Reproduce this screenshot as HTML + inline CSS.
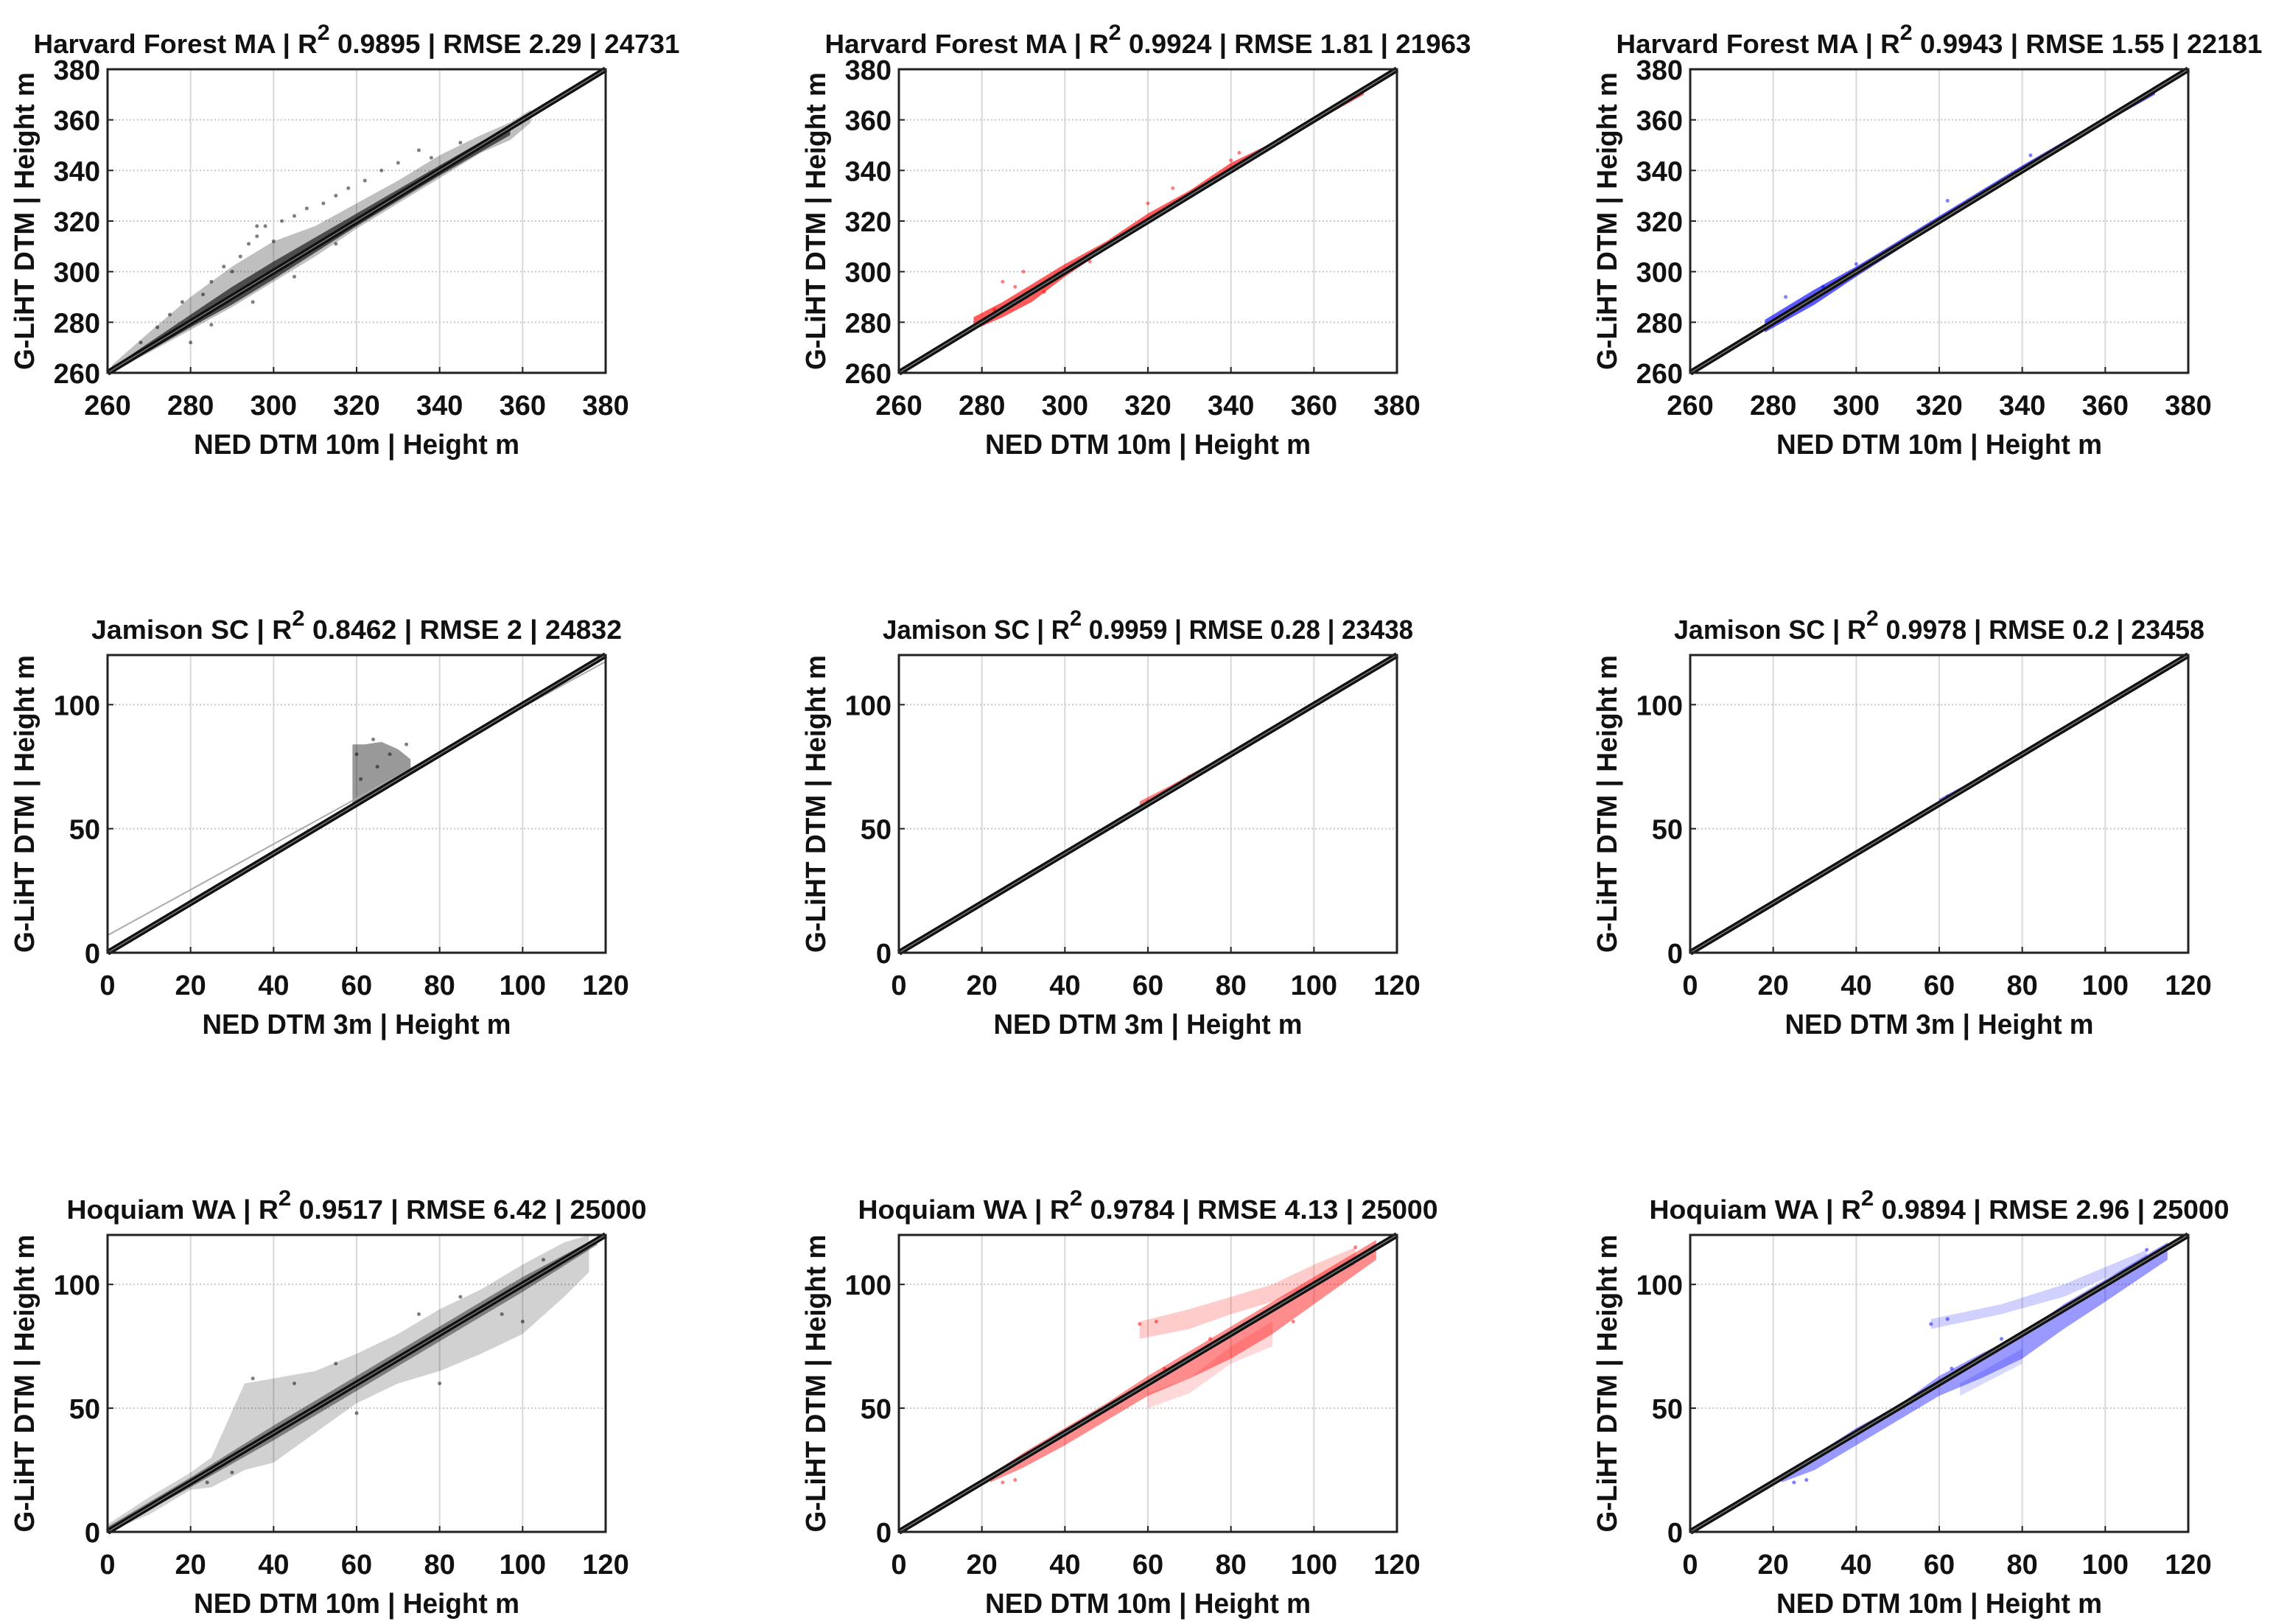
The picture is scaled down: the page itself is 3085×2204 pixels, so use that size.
<!DOCTYPE html>
<html><head><meta charset="utf-8">
<style>
html,body{margin:0;padding:0;background:#fff;}
svg{display:block;}
text{font-family:"Liberation Sans Narrow","Liberation Sans",sans-serif;font-weight:bold;fill:#111;}
</style></head>
<body>
<svg id="fig" width="3085" height="2204" viewBox="0 0 3085 2204" xmlns="http://www.w3.org/2000/svg"></svg>
<script>
// ---- data ----
const titles = [
 ["Harvard Forest MA | R","0.9895 | RMSE 2.29 | 24731"],
 ["Harvard Forest MA | R","0.9924 | RMSE 1.81 | 21963"],
 ["Harvard Forest MA | R","0.9943 | RMSE 1.55 | 22181"],
 ["Jamison SC | R","0.8462 | RMSE 2 | 24832"],
 ["Jamison SC | R","0.9959 | RMSE 0.28 | 23438"],
 ["Jamison SC | R","0.9978 | RMSE 0.2 | 23458"],
 ["Hoquiam WA | R","0.9517 | RMSE 6.42 | 25000"],
 ["Hoquiam WA | R","0.9784 | RMSE 4.13 | 25000"],
 ["Hoquiam WA | R","0.9894 | RMSE 2.96 | 25000"]
];
const xLabels = ["NED DTM 10m | Height m","NED DTM 3m | Height m","NED DTM 10m | Height m"];
const yLabel = "G-LiHT DTM | Height m";
const domains = [[260,380],[0,120],[0,120]];
const xTickVals = [[260,280,300,320,340,360,380],[0,20,40,60,80,100,120],[0,20,40,60,80,100,120]];
const yTickVals = [[260,280,300,320,340,360,380],[0,50,100],[0,50,100]];
const colors = ["#000000","#ff0000","#0000ff"];

// envelopes: [opacity, [x, yLow, yHigh]...]
const envelopes = [
 [[0.25,[[261,260,263],[270,268,276],[280,277,290],[290,286,302],[300,296,312],[310,306,318],[320,317,327],[330,327,336],[340,337,346],[350,347,354],[357,352,359],[362,359,364]]],
  [0.6,[[261,260,262],[280,278,283],[290,287,294],[300,297,304],[320,318,323],[340,338,342],[357,354,358]]]],
 [[0.65,[[278,277,282],[285,282,288],[292,288,295],[300,298,303],[310,309,312],[320,319,323],[330,329,332],[340,339,343],[350,349,351],[360,359,361],[372,370,373]]]],
 [[0.65,[[278,276,281],[290,287,293],[300,298,302],[320,319,322],[340,339,342],[360,359,361],[372,370,372]]]],
 [[0.4,[[59,60,84],[62,62,84],[66,66,85],[70,70,82],[73,73,78]]]],
 [[0.5,[[58,58,61],[65,65,67],[80,80,81]]]],
 [[0.5,[[60,59,62],[70,69,71],[80,79,81]]]],
 [[0.18,[[0,0,3],[10,7,14],[20,17,24],[25,18,30],[33,25,60],[40,28,62],[50,40,65],[60,52,72],[70,60,80],[80,65,90],[90,72,98],[100,80,108],[110,95,117],[116,105,120]]],
  [0.4,[[0,0,2],[20,18,22],[40,37,43],[60,57,63],[80,77,83],[100,97,103],[118,116,119]]]],
 [[0.45,[[22,20,23],[30,26,32],[40,35,42],[50,45,52],[60,55,63],[70,62,73],[80,70,83],[90,80,93],[100,92,103],[115,110,118]]],
  [0.2,[[58,78,85],[70,82,90],[80,88,95],[90,93,100],[100,100,108],[110,108,115]]],
  [0.15,[[60,50,56],[70,56,62],[80,68,75],[90,75,85]]]],
 [[0.4,[[22,20,23],[30,25,31],[40,35,42],[50,45,51],[60,55,63],[70,62,72],[80,70,80],[90,82,92],[100,93,102],[115,110,117]]],
  [0.18,[[58,82,86],[75,88,92],[90,95,100],[110,110,114]]],
  [0.15,[[65,55,60],[80,68,74]]]]
];
// scatter points [x,y]
const points = [
 [[268,272],[272,278],[275,283],[278,288],[283,291],[285,296],[288,302],[290,300],[292,306],[294,311],[296,314],[296,318],[298,318],[300,312],[302,320],[305,322],[308,325],[312,327],[315,330],[318,333],[322,336],[326,340],[330,343],[335,348],[338,345],[345,351],[280,272],[285,279],[295,288],[305,298],[315,311]],
 [[285,296],[290,300],[288,294],[295,292],[320,327],[326,333],[306,304],[340,344],[342,347],[283,285]],
 [[283,290],[292,294],[300,303],[322,328],[342,346],[276,276]],
 [[60,80],[64,86],[68,80],[72,84],[61,70],[65,75]],
 [[60,61],[70,71]],
 [[62,63],[72,73]],
 [[35,62],[45,60],[55,68],[75,88],[85,95],[95,88],[100,85],[105,110],[30,24],[24,20],[60,48],[80,60]],
 [[58,84],[62,85],[25,20],[28,21],[64,66],[75,78],[110,115],[95,85]],
 [[58,84],[62,86],[25,20],[28,21],[63,66],[75,78],[110,114]]
];
// fitted regression lines [intercept, slope]
const fits = [[0,1],[0,1],[0,1],[7,0.92],[0,1],[0,1],[0,1],[0,1],[0,1]];

// ---- layout ----
const colL=[146,1220,2294], W=676;
const rowT=[94,889,1676], H=[412,404,403];
const NS="http://www.w3.org/2000/svg";
const fig=document.getElementById('fig');
function mk(tag,attrs,parent){const e=document.createElementNS(NS,tag);for(const k in attrs)e.setAttribute(k,attrs[k]);(parent||fig).appendChild(e);return e;}

for(let r=0;r<3;r++)for(let c=0;c<3;c++){
 const i=r*3+c, L=colL[c], T=rowT[r], h=H[r], d=domains[r], col=colors[c];
 const sx=v=>L+(v-d[0])/(d[1]-d[0])*W;
 const sy=v=>T+h-(v-d[0])/(d[1]-d[0])*h;
 const g=mk('g',{});
 
 
 xTickVals[r].forEach(v=>{const ln=mk('line',{x1:sx(v),x2:sx(v),y1:T,y2:T+h,stroke:'#d8d8d8','stroke-width':2},g);
  });
 yTickVals[r].forEach(v=>{const ln=mk('line',{x1:L,x2:L+W,y1:sy(v),y2:sy(v),stroke:'#c8c8c8','stroke-width':2,'stroke-dasharray':'2 3'},g);
  });
 envelopes[i].forEach(([op,pts])=>{
  const top=pts.map(p=>sx(p[0])+','+sy(p[2])).join(' ');
  const bot=pts.slice().reverse().map(p=>sx(p[0])+','+sy(p[1])).join(' ');
  const pg=mk('polygon',{points:top+' '+bot,fill:col,'fill-opacity':op,stroke:'none'},g);
  
 });
 points[i].forEach(p=>{const ci=mk('circle',{cx:sx(p[0]),cy:sy(p[1]),r:2.5,fill:col,'fill-opacity':0.5},g);
  });
 const f=fits[i];
 const fl=mk('line',{x1:sx(d[0]),y1:sy(f[0]+f[1]*d[0]),x2:sx(d[1]),y2:sy(f[0]+f[1]*d[1]),stroke:'#aaa','stroke-width':2},g);
 
 const ol=mk('line',{x1:sx(d[0]),y1:sy(d[0]),x2:sx(d[1]),y2:sy(d[1]),stroke:'#111','stroke-width':8},g);
 
 const il=mk('line',{x1:sx(d[0]),y1:sy(d[0]),x2:sx(d[1]),y2:sy(d[1]),stroke:'#777','stroke-width':1.5},g);
 
 const bx=mk('rect',{x:L,y:T,width:W,height:h,fill:'none',stroke:'#222','stroke-width':3},g);
 
 xTickVals[r].forEach(v=>{const t=mk('text',{x:sx(v),y:T+h+57,'text-anchor':'middle','font-size':38},g);t.textContent=v;
  
  mk('line',{x1:sx(v),x2:sx(v),y1:T+h,y2:T+h-8,stroke:'#222','stroke-width':2},g);});
 yTickVals[r].forEach(v=>{const t=mk('text',{x:L-10,y:sy(v)+14,'text-anchor':'end','font-size':38},g);t.textContent=v;
  
  mk('line',{x1:L,x2:L+8,y1:sy(v),y2:sy(v),stroke:'#222','stroke-width':2},g);});
 const xl=mk('text',{x:L+W/2,y:T+h+110,'text-anchor':'middle','font-size':38,textLength:r==1?419:442,lengthAdjust:'spacingAndGlyphs'},g);
 xl.textContent=xLabels[r];
 const yx=L-100, yc=T+h/2;
 const yl=mk('text',{x:yx,y:yc,'text-anchor':'middle','font-size':38,transform:'rotate(-90 '+yx+' '+yc+')',textLength:404,lengthAdjust:'spacingAndGlyphs'},g);
 yl.textContent=yLabel;
 const tw=[877,720,787][r];
 const tt=mk('text',{x:L+W/2,y:T-22,'text-anchor':'middle','font-size':36,textLength:tw,lengthAdjust:'spacingAndGlyphs'},g);
 
 const s1=mk('tspan',{},tt);s1.textContent=titles[i][0];
 const s2=mk('tspan',{dy:-18,'font-size':30},tt);s2.textContent='2';
 const s3=mk('tspan',{dy:18},tt);s3.textContent=' '+titles[i][1];
}
</script>
</body></html>
